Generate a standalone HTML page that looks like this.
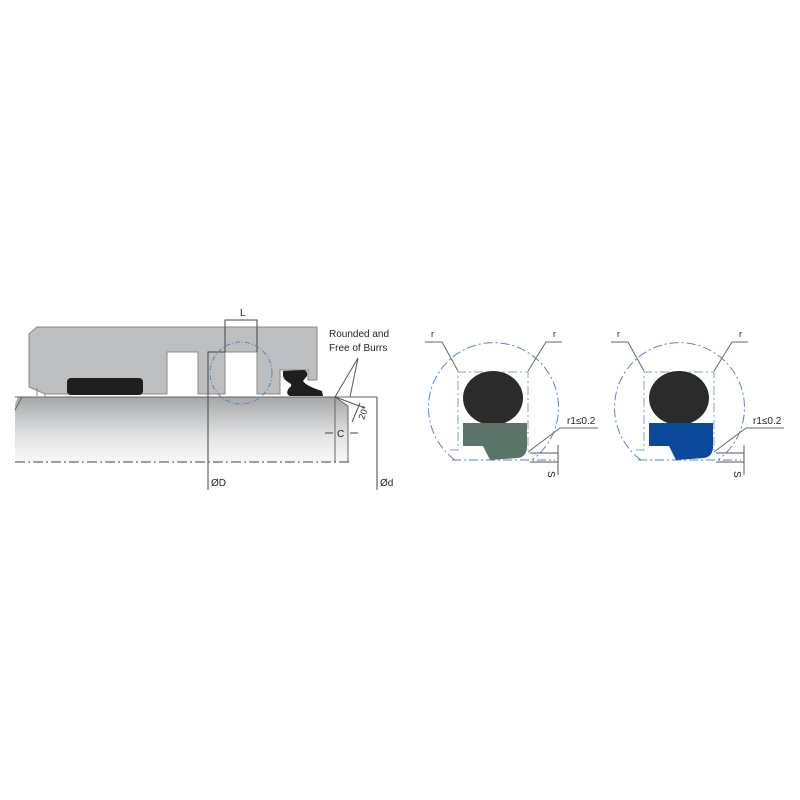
<!DOCTYPE html><html><head><style>body{margin:0;background:#fff}svg{display:block}text{font-family:"Liberation Sans",sans-serif;fill:#222}</style></head><body>
<svg width="800" height="800" viewBox="0 0 800 800" xmlns="http://www.w3.org/2000/svg">
<defs><linearGradient id="rg" x1="0" y1="0" x2="0" y2="1"><stop offset="0" stop-color="#a4a6a8"/><stop offset="0.6" stop-color="#e2e3e4"/><stop offset="1" stop-color="#f8f8f8"/></linearGradient></defs>
<path d="M18,397 L335,397 L348,406 L348,462 L15,462 L15,404 Z" fill="url(#rg)"/>
<line x1="15" y1="397" x2="377" y2="397" stroke="#666" stroke-width="1"/>
<path d="M22,397 L15,410" stroke="#666" fill="none"/>
<line x1="335" y1="397" x2="335" y2="462" stroke="#666"/>
<line x1="348" y1="406" x2="348" y2="462" stroke="#666"/>
<line x1="335" y1="397" x2="348" y2="406" stroke="#666"/>
<line x1="15" y1="462" x2="350" y2="462" stroke="#444" stroke-dasharray="10,3,2,3"/>
<path d="M37,327 L317,327 L317,380 L308,380 L308,370 L280,370 L280,394 L257,394 L257,352 L225,352 L225,394 L198,394 L198,352 L167,352 L167,394 L45,394 L29,387 L29,334 Z" fill="#bcbec0" stroke="#888" stroke-width="1"/>
<line x1="37" y1="388" x2="37" y2="396" stroke="#888"/><line x1="45" y1="394" x2="45" y2="397" stroke="#888"/>
<rect x="67" y="378" width="76" height="17" rx="4" fill="#1e1e1e"/>
<path d="M283,371 L304,370 Q308,371 307,376 L303,381 Q306,386 322,391 L323,396 L290,396 Q285,394 289,388 Q294,385 288,382 Q283,379 283,375 Z" fill="#1e1e1e"/>
<path d="M225,352 L225,320 L257,320 L257,352" stroke="#444" fill="none"/>
<text x="240" y="316" font-size="10">L</text>
<path d="M208,490 L208,352 L225,352" stroke="#444" fill="none"/>
<circle cx="241" cy="373" r="31" fill="none" stroke="#5a86b8" stroke-dasharray="5,2,1,2"/>
<line x1="377" y1="397" x2="377" y2="490" stroke="#444"/>
<text x="211" y="486" font-size="10">ØD</text><text x="380" y="486" font-size="10">Ød</text>
<text x="329" y="337" font-size="10">Rounded and</text><text x="329" y="351" font-size="10">Free of Burrs</text>
<path d="M358,358 L335,397 M358,358 L350,397" stroke="#555" fill="none"/>
<path d="M335,397 L365,408" stroke="#555"/>
<line x1="360" y1="403" x2="352" y2="422" stroke="#555"/>
<text x="364" y="420" font-size="9" transform="rotate(-70 364 420)">20°</text>
<path d="M325,433 L333,433 M350,433 L358,433" stroke="#444"/>
<text x="337" y="437" font-size="10">C</text>
<g id="d1">
<path d="M455,460 A65,65 0 1 1 532,460" fill="none" stroke="#5a86b8" stroke-dasharray="9,3,2,3"/>
<line x1="452" y1="460" x2="555" y2="460" stroke="#5a86b8" stroke-dasharray="9,3,2,3"/>
<path d="M450,450 L458,450 L458,372 L528,372 L528,450" fill="none" stroke="#7aa0cc" stroke-dasharray="9,3,2,3"/>
<ellipse cx="493" cy="398" rx="30" ry="27" fill="#2b2b2b"/>
<path d="M463,423 L527,423 L527,448 Q526,457 518,458 L490,460 L483,446 L463,446 Z" fill="#5a7468"/>
<path d="M425,342 L442,342 L458,371" stroke="#666" fill="none"/>
<path d="M562,342 L546,342 L528,371" stroke="#666" fill="none"/>
<text x="431" y="337" font-size="9">r</text><text x="553" y="337" font-size="9">r</text>
<path d="M598,428 L560,428 L528,452" stroke="#666" fill="none"/>
<text x="567" y="424" font-size="10">r1≤0.2</text>
<path d="M530,453 L558,453 M530,462 L558,462 M558,445 L558,475" stroke="#555" fill="none"/>
<text x="551" y="468" font-size="10" transform="rotate(90 548 468)">S</text>
</g>
<g transform="translate(186,0)">
<path d="M455,460 A65,65 0 1 1 532,460" fill="none" stroke="#5a86b8" stroke-dasharray="9,3,2,3"/>
<line x1="452" y1="460" x2="555" y2="460" stroke="#5a86b8" stroke-dasharray="9,3,2,3"/>
<path d="M450,450 L458,450 L458,372 L528,372 L528,450" fill="none" stroke="#7aa0cc" stroke-dasharray="9,3,2,3"/>
<ellipse cx="493" cy="398" rx="30" ry="27" fill="#2b2b2b"/>
<path d="M463,423 L527,423 L527,448 Q526,457 518,458 L490,460 L483,446 L463,446 Z" fill="#0b4a9a"/>
<path d="M425,342 L442,342 L458,371" stroke="#666" fill="none"/>
<path d="M562,342 L546,342 L528,371" stroke="#666" fill="none"/>
<text x="431" y="337" font-size="9">r</text><text x="553" y="337" font-size="9">r</text>
<path d="M598,428 L560,428 L528,452" stroke="#666" fill="none"/>
<text x="567" y="424" font-size="10">r1≤0.2</text>
<path d="M530,453 L558,453 M530,462 L558,462 M558,445 L558,475" stroke="#555" fill="none"/>
<text x="551" y="468" font-size="10" transform="rotate(90 548 468)">S</text>
</g>
</svg></body></html>
